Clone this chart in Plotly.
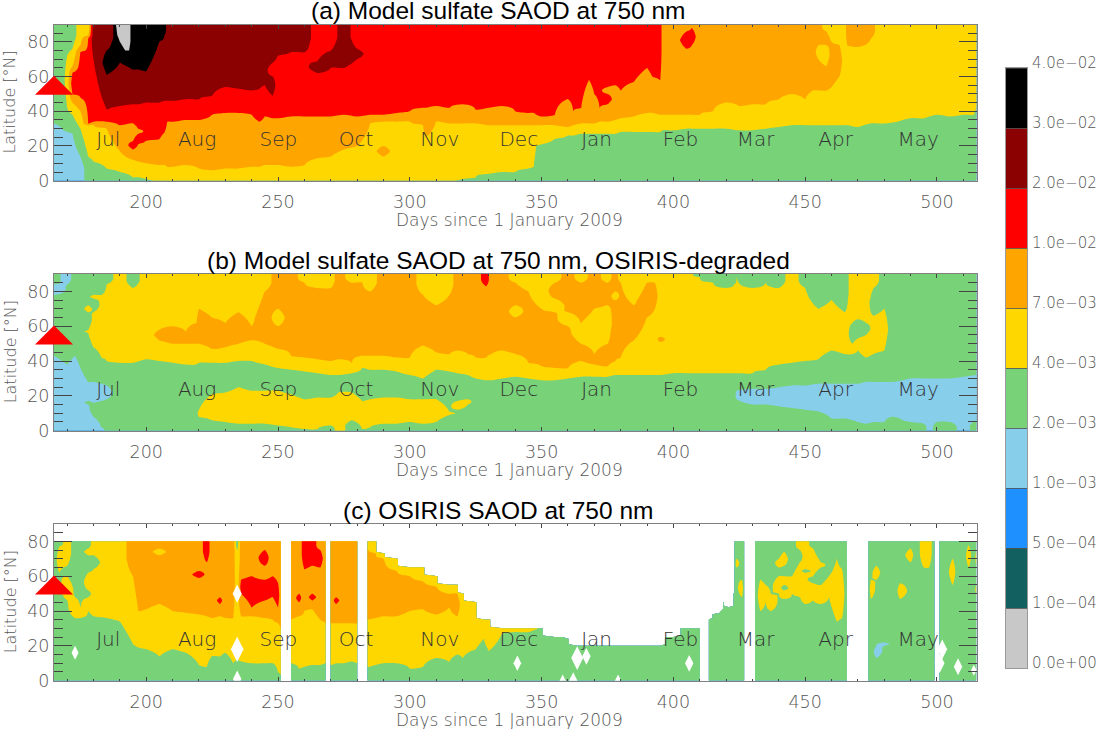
import numpy as np
import plotly.graph_objects as go

# SAOD bands, 0 = lowest class, 9 = highest
BAND_LABELS = ['0.0e+00', '1.0e\u221204', '5.0e\u221204', '1.0e\u221203', '2.0e\u221203', '4.0e\u221203',
               '7.0e\u221203', '1.0e\u221202', '2.0e\u221202', '3.0e\u221202', '4.0e\u221202']
BAND_COLORS = ['#c8c8c8', '#126060', '#1e90ff', '#87ceeb', '#78d278', '#ffd700',
               '#ffa500', '#ff0000', '#8b0000', '#000000']

MONTHS = ['Jul', 'Aug', 'Sep', 'Oct', 'Nov', 'Dec', 'Jan', 'Feb', 'Mar', 'Apr', 'May']
MONTH_DAYS = [181, 212, 243, 273, 304, 334, 365, 396, 424, 455, 485]

ERUPTION_DAY = 165
ERUPTION_LAT = 49.5

TITLES = ['(a) Model sulfate SAOD at 750 nm', '(b) Model sulfate SAOD at 750 nm, OSIRIS-degraded',
          '(c) OSIRIS SAOD at 750 nm']

# each column: day, then band / top latitude pairs going up from the equator
PANEL_A = [
    (165, [3, 33, 4, 90]), (168, [3, 30, 4, 90]),
    (170, [3, 28, 4, 42, 5, 72, 4, 90]),
    (172, [3, 27, 4, 38, 5, 45, 6, 50, 7, 62, 6, 66, 5, 76, 4, 90]),
    (175, [3, 14, 4, 30, 5, 40, 6, 48, 7, 74, 6, 78, 5, 90]),
    (178, [4, 14, 5, 32, 6, 33, 7, 82, 6, 84, 5, 90]),
    (180, [4, 11, 5, 32, 6, 34, 7, 70, 8, 90]),
    (185, [4, 7, 5, 30, 6, 34, 7, 41, 8, 61, 9, 75, 8, 90]),
    (190, [4, 5, 5, 17, 6, 32, 7, 43, 8, 68, 9, 90]),
    (195, [4, 2, 5, 12, 6, 18, 7, 23, 6, 33, 7, 44, 8, 64, 9, 90]),
    (197, [4, 2, 5, 11, 6, 21, 7, 27, 6, 30, 7, 44, 8, 64, 9, 90]),
    (200, [4, 1, 5, 10, 6, 23, 7, 45, 8, 63, 9, 90]),
    (205, [5, 9, 6, 24, 7, 45, 8, 80, 9, 90]),
    (207, [5, 9, 6, 28, 7, 46, 8, 84, 9, 90]),
    (208, [5, 8, 6, 34, 7, 46, 8, 90]),
    (210, [5, 8, 6, 34, 7, 46, 8, 90]), (215, [5, 9, 6, 35, 7, 47, 8, 90]),
    (220, [5, 7, 6, 35, 7, 47, 8, 90]), (225, [5, 6, 6, 38, 7, 49, 8, 90]),
    (230, [5, 7, 6, 39, 7, 54, 8, 90]), (235, [5, 7, 6, 39, 7, 53, 8, 90]),
    (240, [5, 8, 6, 38, 7, 52, 8, 90]), (243, [5, 8, 6, 34, 7, 53, 8, 90]),
    (245, [5, 9, 6, 37, 7, 55, 8, 90]),
    (248, [5, 9, 6, 36, 7, 49, 8, 60, 7, 68, 8, 90]),
    (250, [5, 9, 6, 36, 7, 72, 8, 90]), (255, [5, 8, 6, 37, 7, 74, 8, 90]),
    (260, [5, 9, 6, 37, 7, 74, 8, 90]), (265, [5, 13, 6, 37, 7, 62, 8, 69, 7, 90]),
    (270, [5, 14, 6, 37, 7, 65, 8, 75, 7, 90]), (275, [5, 18, 6, 38, 7, 65, 8, 90]),
    (280, [5, 20, 6, 37, 7, 70, 8, 76, 7, 90]), (285, [5, 33, 6, 38, 7, 90]),
    (290, [5, 14, 6, 20, 5, 34, 6, 38, 7, 90]), (295, [5, 34, 6, 39, 7, 90]),
    (300, [5, 34, 6, 40, 7, 90]), (305, [5, 32, 6, 42, 7, 90]), (306, [5, 25, 6, 42, 7, 90]),
    (310, [5, 34, 6, 43, 7, 90]), (315, [5, 33, 6, 42, 7, 90]),
    (320, [4, 1, 5, 33, 6, 44, 7, 90]), (325, [4, 2, 5, 33, 6, 41, 7, 90]),
    (330, [4, 4, 5, 32, 6, 42, 7, 90]), (335, [4, 5, 5, 32, 6, 43, 7, 90]),
    (340, [4, 5, 5, 32, 6, 40, 7, 90]), (345, [4, 7, 5, 32, 6, 39, 7, 90]),
    (347, [4, 8, 5, 32, 6, 39, 7, 90]), (348, [4, 20, 5, 32, 6, 38, 7, 90]),
    (350, [4, 21, 5, 32, 6, 37, 7, 90]), (355, [4, 24, 5, 32, 6, 38, 7, 90]),
    (360, [4, 26, 5, 31, 6, 47, 7, 90]), (362, [4, 26, 5, 32, 6, 40, 7, 90]),
    (365, [4, 27, 5, 33, 6, 42, 7, 90]), (368, [4, 27, 5, 33, 6, 58, 7, 90]),
    (370, [4, 27, 5, 33, 6, 50, 7, 90]), (372, [4, 27, 5, 34, 6, 42, 7, 90]),
    (375, [4, 27, 5, 34, 6, 44, 7, 50, 6, 54, 7, 90]), (378, [4, 27, 5, 35, 6, 55, 7, 90]),
    (380, [4, 28, 5, 36, 6, 52, 7, 90]), (385, [4, 28, 5, 37, 6, 57, 7, 90]),
    (390, [4, 28, 5, 39, 6, 65, 7, 90]), (392, [4, 28, 5, 39, 6, 60, 7, 90]),
    (395, [4, 28, 5, 38, 6, 58, 7, 90]), (396, [4, 29, 5, 38, 6, 90]),
    (400, [4, 29, 5, 38, 6, 90]), (405, [4, 30, 5, 38, 6, 76, 7, 86, 6, 90]),
    (407, [4, 30, 5, 38, 6, 78, 7, 88, 6, 90]), (410, [4, 30, 5, 38, 6, 90]),
    (415, [4, 30, 5, 40, 6, 90]), (420, [4, 30, 5, 45, 6, 90]), (425, [4, 29, 5, 43, 6, 90]),
    (430, [4, 29, 5, 44, 6, 90]), (435, [4, 30, 5, 44, 6, 90]), (440, [4, 31, 5, 47, 6, 90]),
    (445, [4, 32, 5, 50, 6, 90]), (450, [4, 32, 5, 47, 6, 90]), (453, [4, 32, 5, 52, 6, 90]),
    (455, [4, 32, 5, 52, 6, 70, 5, 78, 6, 90]), (458, [4, 32, 5, 52, 6, 66, 5, 78, 6, 86, 5, 90]),
    (460, [4, 32, 5, 54, 6, 80, 5, 90]), (463, [4, 32, 5, 60, 6, 78, 5, 90]),
    (465, [4, 32, 5, 90]), (466, [4, 32, 5, 78, 6, 90]), (470, [4, 31, 5, 77, 6, 90]),
    (475, [4, 33, 5, 82, 6, 90]), (478, [4, 33, 5, 90]), (480, [4, 33, 5, 90]),
    (485, [4, 34, 5, 90]), (490, [4, 36, 5, 90]), (495, [4, 36, 5, 90]),
    (500, [4, 38, 5, 90]), (505, [4, 37, 5, 90]), (510, [4, 38, 5, 90]),
    (514, [4, 38, 5, 90]), (515, [4, 42, 5, 90]),
]

# lowest-class patch inside the black area of panel a
GREY_PATCH_DAYS = [188.5, 194, 194, 193.5, 192, 190, 189]
GREY_PATCH_LATS = [90, 90, 80, 75, 75, 80, 84]

PANEL_B = [
    (165, [3, 43, 4, 78, 3, 84, 4, 90]), (170, [3, 38, 4, 84, 3, 90]), (173, [3, 43, 4, 90]),
    (175, [3, 36, 4, 90]), (178, [3, 15, 4, 17, 3, 28, 4, 56, 5, 58, 4, 68, 5, 72, 4, 90]),
    (180, [3, 8, 4, 16, 3, 28, 4, 48, 5, 68, 4, 76, 5, 78, 4, 90]),
    (183, [3, 2, 4, 17, 3, 27, 4, 42, 5, 78, 4, 90]),
    (185, [4, 18, 3, 26, 4, 40, 5, 84, 4, 90]), (190, [4, 39, 5, 90]), (195, [4, 39, 5, 82, 4, 90]),
    (200, [4, 41, 5, 90]), (205, [4, 40, 5, 52, 6, 58, 5, 90]), (210, [4, 39, 5, 50, 6, 60, 5, 90]),
    (215, [4, 38, 5, 50, 6, 57, 5, 90]), (219, [4, 38, 5, 50, 6, 62, 5, 90]),
    (220, [4, 8, 5, 12, 4, 39, 5, 50, 6, 70, 5, 90]),
    (225, [4, 6, 5, 21, 4, 39, 5, 47, 6, 65, 5, 90]), (230, [4, 5, 5, 22, 4, 39, 5, 48, 6, 62, 5, 90]),
    (235, [4, 4, 5, 25, 4, 40, 5, 50, 6, 68, 5, 90]), (240, [4, 4, 5, 23, 4, 40, 5, 52, 6, 60, 5, 90]),
    (245, [4, 4, 5, 23, 4, 38, 5, 50, 6, 80, 5, 90]),
    (250, [4, 3, 5, 23, 4, 36, 5, 47, 6, 60, 5, 70, 6, 90]), (255, [4, 2, 5, 21, 4, 35, 5, 43, 6, 90]),
    (260, [4, 1, 5, 18, 4, 34, 5, 42, 6, 85, 5, 90]), (265, [4, 1, 5, 19, 4, 33, 5, 41, 6, 82, 5, 90]),
    (270, [4, 3, 5, 19, 4, 32, 5, 40, 6, 82, 5, 90]), (273, [5, 22, 4, 32, 5, 41, 6, 90]),
    (278, [4, 6, 5, 22, 4, 33, 5, 39, 6, 85, 5, 90]), (282, [4, 1, 5, 17, 4, 36, 5, 43, 6, 85, 5, 90]),
    (285, [4, 2, 5, 18, 4, 35, 5, 43, 6, 80, 5, 90]), (290, [4, 4, 5, 19, 4, 35, 5, 43, 6, 90]),
    (295, [4, 4, 5, 19, 4, 34, 5, 42, 6, 90]), (300, [4, 5, 5, 18, 4, 32, 5, 42, 6, 90]),
    (305, [4, 4, 5, 18, 4, 30, 5, 49, 6, 78, 5, 90]), (310, [4, 5, 5, 18, 4, 35, 5, 45, 6, 72, 5, 90]),
    (315, [4, 9, 5, 11, 4, 34, 5, 44, 6, 78, 5, 90]), (318, [4, 12, 5, 17, 4, 33, 5, 46, 6, 90]),
    (322, [4, 15, 5, 18, 4, 32, 5, 44, 6, 90]), (325, [4, 30, 5, 42, 6, 90]),
    (329, [4, 29, 5, 42, 6, 83, 7, 90]), (331, [4, 29, 5, 44, 6, 90]), (335, [4, 30, 5, 46, 6, 90]),
    (340, [4, 31, 5, 44, 6, 65, 5, 72, 6, 85, 5, 90]), (345, [4, 30, 5, 39, 6, 80, 5, 90]),
    (350, [4, 29, 5, 37, 6, 70, 5, 90]), (355, [4, 29, 5, 36, 6, 68, 5, 76, 6, 85, 5, 90]),
    (360, [4, 30, 5, 36, 6, 60, 5, 68, 6, 90]), (365, [4, 31, 5, 40, 6, 50, 5, 62, 6, 85, 5, 90]),
    (370, [4, 31, 5, 38, 6, 44, 5, 70, 6, 90]), (375, [4, 31, 5, 37, 6, 50, 5, 72, 6, 85, 5, 90]),
    (378, [4, 32, 5, 40, 6, 75, 5, 80, 6, 90]), (380, [4, 32, 5, 42, 6, 85, 5, 90]),
    (385, [4, 32, 5, 52, 6, 72, 5, 90]), (390, [4, 32, 5, 65, 6, 85, 5, 90]),
    (393, [4, 32, 5, 70, 6, 85, 5, 90]), (395, [4, 32, 5, 51, 6, 54, 5, 90]),
    (400, [4, 33, 5, 90]), (405, [4, 33, 5, 90]), (410, [4, 33, 5, 88, 4, 90]),
    (415, [4, 33, 5, 85, 4, 90]), (420, [4, 33, 5, 82, 4, 90]), (423, [4, 33, 5, 84, 4, 90]),
    (424, [4, 18, 3, 23, 4, 33, 5, 88, 4, 90]), (430, [4, 15, 3, 24, 4, 33, 5, 82, 4, 90]),
    (435, [4, 15, 3, 24, 4, 35, 5, 85, 4, 90]), (440, [4, 14, 3, 25, 4, 38, 5, 82, 4, 90]),
    (445, [4, 13, 3, 26, 4, 39, 5, 90]), (450, [4, 12, 3, 26, 4, 40, 5, 82, 4, 90]),
    (455, [4, 11, 3, 27, 4, 41, 5, 70, 4, 90]), (460, [4, 7, 3, 27, 4, 46, 5, 75, 4, 90]),
    (465, [4, 7, 3, 27, 4, 44, 5, 68, 4, 90]), (468, [4, 6, 3, 27, 4, 44, 5, 50, 4, 62, 5, 90]),
    (470, [4, 5, 3, 27, 4, 46, 5, 53, 4, 64, 5, 90]), (473, [4, 4, 3, 28, 4, 42, 5, 55, 4, 62, 5, 90]),
    (476, [4, 5, 3, 28, 4, 44, 5, 66, 4, 82, 5, 90]), (480, [4, 5, 3, 28, 4, 46, 5, 70, 4, 90]),
    (483, [4, 8, 3, 28, 4, 90]), (487, [4, 6, 3, 29, 4, 90]), (490, [4, 5, 3, 30, 4, 90]),
    (495, [4, 4, 3, 30, 4, 90]), (497, [3, 30, 4, 90]), (500, [4, 5, 3, 30, 4, 90]),
    (505, [4, 5, 3, 30, 4, 90]), (510, [3, 31, 4, 90]), (515, [4, 6, 3, 32, 4, 90]),
]

# empty column = no retrievals that day
PANEL_C = [
    (165, [4, 80]), (167, [4, 62, 5, 77, 4, 80]), (170, [4, 46, 5, 60, 4, 66, 5, 80]),
    (173, [4, 36, 5, 48, 4, 80]), (175, [4, 36, 5, 42, 4, 80]),
    (178, [4, 40, 5, 48, 4, 52, 5, 62, 4, 72, 5, 76, 4, 80]), (180, [4, 37, 5, 64, 4, 72, 5, 80]),
    (185, [4, 36, 5, 80]), (190, [4, 34, 5, 80]), (195, [4, 21, 5, 60, 6, 80]),
    (197, [4, 19, 5, 40, 6, 80]), (200, [4, 18, 5, 41, 6, 80]), (205, [4, 14, 5, 44, 6, 72, 5, 76, 6, 80]),
    (210, [4, 18, 5, 40, 6, 80]), (215, [4, 16, 5, 39, 6, 80]), (220, [4, 9, 5, 38, 6, 59, 7, 63, 6, 80]),
    (223, [4, 8, 5, 37, 6, 68, 7, 80]), (225, [4, 14, 5, 36, 6, 80]),
    (228, [4, 14, 5, 37, 6, 44, 7, 48, 6, 80]), (230, [4, 16, 5, 36, 6, 80]), (233, [4, 10, 5, 36, 6, 80]),
    (234.5, [4, 12, 5, 75, 4, 80]), (236, [4, 11, 5, 37, 6, 50, 7, 58, 6, 80]),
    (240, [4, 10, 5, 37, 6, 42, 7, 60, 6, 80]), (245, [4, 10, 5, 36, 6, 46, 7, 58, 6, 66, 7, 75, 6, 80]),
    (248, [4, 10, 5, 35, 6, 48, 7, 60, 6, 80]), (250, [4, 5, 5, 33, 6, 42, 7, 56, 6, 80]),
    (251, [4, 3, 5, 30, 6, 80]), (251.4, []), (254.6, []),
    (255, [4, 10, 5, 35, 6, 80]), (258, [4, 7, 5, 37, 6, 45, 7, 50, 6, 80]),
    (260, [4, 8, 5, 40, 6, 64, 7, 80]), (263, [4, 9, 5, 41, 6, 46, 7, 50, 6, 66, 7, 80]),
    (266, [4, 9, 5, 35, 6, 65, 7, 75, 6, 80]), (268, [4, 10, 5, 33, 6, 80]), (268.4, []), (269.6, []),
    (270, [4, 9, 5, 33, 6, 80]), (272, [4, 10, 5, 33, 6, 44, 7, 48, 6, 80]), (275, [4, 10, 5, 33, 6, 80]),
    (278, [4, 11, 5, 33, 6, 80]), (280, [4, 10, 5, 33, 6, 80]), (280.4, []), (283.6, []),
    (284, [4, 8, 5, 35, 6, 76, 5, 80]), (287, [4, 9, 5, 36, 6, 73, 5, 80]), (290, [4, 10, 5, 37, 6, 70, 5, 73]),
    (295, [4, 10, 5, 37, 6, 63, 5, 70]), (300, [4, 7, 5, 40, 6, 60, 5, 65]), (305, [4, 8, 5, 41, 6, 57, 5, 65]),
    (310, [4, 13, 5, 38, 6, 54, 5, 60]), (315, [4, 11, 5, 42, 6, 50, 5, 55]), (318, [4, 15, 5, 37, 6, 50, 5, 55]),
    (320, [4, 13, 5, 50]), (325, [4, 18, 5, 45]), (328, [4, 24, 5, 35]), (330, [4, 17, 5, 35]),
    (335, [4, 27, 5, 30]), (340, [4, 28, 5, 30]), (345, [4, 28, 5, 30]), (347, [4, 29, 5, 30]),
    (350, [4, 30]), (355, [4, 25]), (358, [4, 25]), (360, [4, 24]),
    (363.5, [4, 20]), (365, [4, 20]), (367, [4, 20]), (370, [4, 20]),
    (375, [4, 20]), (379, [4, 20]), (385, [4, 20]), (390, [4, 20]), (395, [4, 20]), (397, [4, 25]),
    (400, [4, 25]), (403, [4, 30]), (406, [4, 30]), (409, [4, 30]), (410, [4, 30]),
    (410.4, []), (413.1, []), (413.5, [4, 35]), (415, [4, 38]), (418, [4, 40]), (419, [4, 45]), (421, [4, 42]),
    (423, [4, 50]), (423.2, [4, 80]), (424, [4, 65, 5, 70, 4, 80]), (426, [4, 48, 5, 58, 4, 80]),
    (426.8, [4, 80]), (427.2, []), (430.8, []), (431, [4, 80]), (433, [4, 40, 5, 58, 4, 80]),
    (435, [4, 45, 5, 55, 4, 80]), (437, [4, 40, 5, 50, 4, 80]), (440, [4, 50, 5, 60, 4, 65, 5, 70, 4, 80]),
    (442, [4, 47, 5, 52, 4, 55, 5, 60, 4, 66, 5, 74, 4, 80]), (445, [4, 50, 5, 60, 4, 80]),
    (448, [4, 48, 5, 68, 4, 75, 5, 80]), (450, [4, 44, 5, 62, 4, 64, 5, 80]),
    (453, [4, 46, 5, 56, 4, 60, 5, 76, 4, 80]), (456, [4, 44, 5, 55, 4, 65, 5, 68, 4, 80]),
    (459, [4, 48, 5, 60, 4, 80]), (462, [4, 34, 5, 70, 4, 80]), (464, [4, 36, 5, 64, 4, 80]),
    (465.8, [4, 80]), (466.2, []), (473.8, []), (474, [4, 80]), (475, [4, 47, 5, 58, 4, 80]),
    (477, [4, 13, 3, 20, 4, 58, 5, 66, 4, 80]), (480, [4, 20, 3, 22, 4, 80]), (484, [4, 80]),
    (486, [4, 47, 5, 56, 4, 80]), (490, [4, 68, 5, 76, 4, 80]), (492, [4, 80]), (495, [4, 65, 5, 80]),
    (497, [4, 65, 5, 80]), (499, [4, 80]), (499.2, []), (500.8, []), (501, [4, 80]),
    (503, [4, 80]), (506, [4, 55, 5, 70, 4, 80]), (508, [4, 80]), (510, [4, 80]),
    (512, [4, 65, 5, 78, 4, 80]), (514, [4, 80]), (515, [4, 50, 5, 55, 4, 66, 5, 75, 4, 80]),
]

# single missing retrievals in panel c, drawn as small white holes
HOLE_DAYS = [173, 234.5, 234.5, 234.5, 340.8, 358, 362, 363.5, 367, 379, 406, 501, 502, 508, 514]
HOLE_LATS = [16, 50, 18, 1, 10, 0, 0, 13, 14, 0, 10, 10, 18, 8, 6]
HOLE_SIZES = [10, 13, 18, 12, 11, 9, 12, 17, 12, 9, 12, 14, 14, 12, 8]

LATS = np.arange(0, 91)


def column_field(runs):
    # turn band/top pairs into a continuous profile so contour edges slant between columns
    z = np.full(len(LATS), np.nan)
    pairs = list(zip(runs[0::2], runs[1::2]))
    if not pairs:
        return z
    knots = []
    bottom = 0
    for k, (band, top) in enumerate(pairs):
        knots.append(((bottom + top) / 2, band))
        if k + 1 < len(pairs):
            nxt = pairs[k + 1][0]
            if abs(nxt - band) == 1:
                knots.append((top, (band + nxt) / 2))
            else:
                s = np.sign(nxt - band)
                knots.append((top - 0.4, band + 0.5 * s))
                knots.append((top + 0.4, nxt - 0.5 * s))
        bottom = top
    knots.sort()
    z = np.interp(LATS, [p[0] for p in knots], [p[1] for p in knots])
    z[LATS > pairs[-1][1]] = np.nan
    return z


def panel_field(panel):
    days = [c[0] for c in panel]
    return days, np.array([column_field(c[1]) for c in panel]).T


W, H = 1098, 729
PLOT_L, PLOT_R = 54, 976.5
PANEL_TOPS = [24.5, 274, 524]
PANEL_BOTS = [180.7, 430.7, 680.7]
BAR_L, BAR_R, BAR_T, BAR_B = 1005.5, 1027, 68, 668

LIGHT = 'DejaVu Sans'
scale = []
for i, c in enumerate(BAND_COLORS):
    scale += [[i / 10, c], [(i + 1) / 10, c]]

fig = go.Figure()
shapes = []
annos = []
for i, panel in enumerate([PANEL_A, PANEL_B, PANEL_C]):
    s = '' if i == 0 else str(i + 1)
    xa, ya = 'x' + s, 'y' + s
    days, z = panel_field(panel)
    fig.add_trace(go.Contour(x=days, y=LATS, z=z, xaxis=xa, yaxis=ya, colorscale=scale, zmin=-0.5, zmax=9.5,
                             autocontour=False, connectgaps=False, showscale=False, line_width=0,
                             contours=dict(coloring='fill', start=0.5, end=8.5, size=1, showlines=False)))
    if i == 0:
        fig.add_trace(go.Scatter(x=GREY_PATCH_DAYS, y=GREY_PATCH_LATS, mode='lines', fill='toself', line_width=0,
                                 fillcolor=BAND_COLORS[0], xaxis=xa, yaxis=ya, showlegend=False))
    if i == 2:
        fig.add_trace(go.Scatter(x=HOLE_DAYS, y=HOLE_LATS, mode='markers', xaxis=xa, yaxis=ya, showlegend=False,
                                 marker=dict(symbol='diamond-tall', size=HOLE_SIZES, color='white', opacity=1,
                                             line_width=0)))
    fig.add_trace(go.Scatter(x=MONTH_DAYS, y=[23] * len(MONTHS), text=MONTHS, mode='text', xaxis=xa, yaxis=ya,
                             textposition='middle right', showlegend=False,
                             textfont=dict(family=LIGHT, size=20, color='#333333', weight=200)))
    axis_common = dict(showgrid=False, zeroline=False, showline=True, linecolor='#808080', linewidth=1,
                       mirror='allticks', ticks='inside', tickcolor='#444444', tickwidth=1,
                       tickfont=dict(family=LIGHT, size=17.5, color='#555555', weight=200))
    fig.update_layout({
        'xaxis' + s: dict(domain=[PLOT_L / W, PLOT_R / W], anchor=ya, range=[165, 515], tickvals=[200, 250, 300, 350, 400, 450, 500],
                          ticklen=4, ticklabelstandoff=5, minor=dict(dtick=10, ticklen=2, ticks='inside', tickcolor='#444444'),
                          **axis_common),
        'yaxis' + s: dict(domain=[1 - PANEL_BOTS[i] / H, 1 - PANEL_TOPS[i] / H], anchor=xa, range=[0, 90], tick0=0, dtick=20,
                          ticklen=18, minor=dict(dtick=5, ticklen=9, ticks='inside', tickcolor='#444444'), **axis_common),
    })
    # eruption marker, pixel sized and anchored to its day and latitude
    shapes.append(dict(type='path', xref=xa + ' domain', yref=ya + ' domain', xsizemode='pixel', ysizemode='pixel',
                       xanchor=(ERUPTION_DAY - 165) / 350, yanchor=ERUPTION_LAT / 90,
                       path='M -19 0 L 19 0 L 0 19 Z', fillcolor='#ff0000', line_width=0))
    annos.append(dict(text=TITLES[i], xref='paper', yref='paper', x=498 / W, y=1 - (PANEL_TOPS[i] - 13.5) / H,
                      xanchor='center', yanchor='middle', showarrow=False,
                      font=dict(family='Liberation Sans', size=24.5, color='#000000')))
    annos.append(dict(text='Days since 1 January 2009', xref='paper', yref='paper', x=509.5 / W,
                      y=1 - (PANEL_BOTS[i] + 39) / H, xanchor='center', yanchor='middle', showarrow=False,
                      font=dict(family=LIGHT, size=17, color='#555555', weight=200)))
    annos.append(dict(text='Latitude [\u00b0N]', xref='paper', yref='paper', x=10 / W,
                      y=1 - (PANEL_TOPS[i] + PANEL_BOTS[i]) / 2 / H, xanchor='center', yanchor='middle',
                      showarrow=False, textangle=-90,
                      font=dict(family=LIGHT, size=16, color='#555555', weight=200)))

# colour key, one stacked bar per band
for band, c in enumerate(BAND_COLORS):
    fig.add_trace(go.Bar(x=[0], y=[1], xaxis='x4', yaxis='y4', width=1, showlegend=False,
                         marker=dict(color=c, line=dict(color='#555555', width=0.6))))
for k, label in enumerate(BAND_LABELS):
    annos.append(dict(text=label, xref='paper', yref='y4', x=1030 / W, y=k, yshift=5, xanchor='left', yanchor='middle',
                      showarrow=False, font=dict(family=LIGHT, size=15, color='#555555', weight=200)))
fig.update_layout(
    barmode='stack',
    xaxis4=dict(domain=[BAR_L / W, BAR_R / W], anchor='y4', range=[-0.5, 0.5], showticklabels=False, ticks='',
                showgrid=False, zeroline=False, showline=True, linecolor='#999999', mirror=True),
    yaxis4=dict(domain=[1 - BAR_B / H, 1 - BAR_T / H], anchor='x4', range=[0, 10], showgrid=False, showticklabels=False,
                zeroline=False, showline=True, linecolor='#999999', mirror=True, ticks=''),
    width=W, height=H, margin=dict(l=0, r=0, t=0, b=0, autoexpand=False), paper_bgcolor='white', plot_bgcolor='white',
    shapes=shapes, annotations=annos, showlegend=False,
)

# the page's default body margin would push the figure off its place
fig.write_html("out.html", post_script="document.body.style.margin='0';", config={'displayModeBar': False})
